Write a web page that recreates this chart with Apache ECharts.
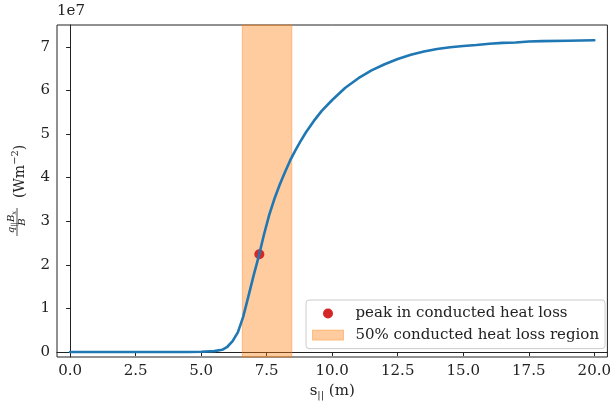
<!DOCTYPE html>
<html>
<head>
<meta charset="utf-8">
<script src="https://cdn.jsdelivr.net/npm/echarts@6/dist/echarts.min.js"></script>
<style>
html,body{margin:0;padding:0;background:#fff;}
#chart{width:614px;height:407px;}
</style>
</head>
<body>
<div id="chart"></div>
<script>
// s_|| (m)
const sValues = [0,1,2,3,4,4.5,5,5.5,5.8,6,6.2,6.4,6.6,6.8,7,7.2,7.4,7.6,7.8,8,8.2,8.4,8.6,8.8,9,9.3,9.6,10,10.5,11,11.5,12,12.5,13,13.5,14,14.5,15,15.5,16,16.5,17,17.5,18,19,20];
// q_|| Bx / B in units of 1e7 W m^-2
const qValues = [0,0,0,0,0,0,0.005,0.02,0.05,0.12,0.25,0.45,0.80,1.27,1.75,2.20,2.70,3.15,3.52,3.84,4.13,4.40,4.63,4.84,5.04,5.30,5.53,5.78,6.06,6.28,6.46,6.60,6.72,6.82,6.89,6.95,6.99,7.02,7.04,7.07,7.09,7.10,7.12,7.13,7.14,7.15];
const peakS = [7.22];
const peakQ = [2.24];
const regionStart = 6.57;
const regionEnd = 8.46;
const xTicks = [0,2.5,5,7.5,10,12.5,15,17.5,20];
const yTicks = [0,1,2,3,4,5,6,7];
const peakName = 'peak in conducted heat loss';
const regionName = '50% conducted heat loss region';

const FF = 'DejaVu Serif';
const ink = '#222';
const blue = '#1f77b4';
const red = '#d62728';
const orangeA = 'rgba(255,127,14,0.4)';

const chart = echarts.init(document.getElementById('chart'), null, {renderer:'canvas'});
chart.setOption({
  animation: false,
  backgroundColor: '#fff',
  textStyle: {fontFamily: FF},
  grid: {left: 57, right: 3, top: 25, bottom: 50, show: true, borderColor: ink, borderWidth: 1, containLabel: false},
  xAxis: {
    type: 'value', min: -0.5, max: 20.5,
    name: '{a|s}{b|||}{a| (m)}',
    nameLocation: 'middle', nameGap: 26,
    nameTextStyle: {
      rich: {
        a: {fontFamily: FF, fontSize: 15, color: ink},
        b: {fontFamily: FF, fontSize: 10, color: ink, padding: [7,0,0,0]}
      }
    },
    axisLine: {show: true, lineStyle: {color: ink, width: 1}},
    axisTick: {show: true, length: 4, lineStyle: {color: ink}, customValues: xTicks},
    axisLabel: {fontFamily: FF, fontSize: 15, color: ink, margin: 7, customValues: xTicks,
      formatter: v => v.toFixed(1)},
    splitLine: {show: false}
  },
  yAxis: {
    type: 'value', min: -0.115, max: 7.5,
    axisLine: {show: true, lineStyle: {color: ink, width: 1}},
    axisTick: {show: true, length: 4, lineStyle: {color: ink}, customValues: yTicks},
    axisLabel: {fontFamily: FF, fontSize: 15, color: ink, margin: 7, customValues: yTicks,
      formatter: v => String(Math.round(v))},
    splitLine: {show: false}
  },
  legend: {
    orient: 'vertical', left: 306, top: 300,
    padding: [5, 6, 5, 6],
    itemWidth: 31, itemHeight: 10, itemGap: 4.6,
    backgroundColor: 'rgba(255,255,255,0.8)', borderColor: '#cccccc', borderWidth: 1, borderRadius: 3,
    textStyle: {fontFamily: FF, fontSize: 15, color: ink, lineHeight: 17, padding: [0,0,0,7]},
    data: [
      {name: peakName, icon: 'circle', itemStyle: {color: red, opacity: 1}},
      {name: regionName, icon: 'rect', itemStyle: {color: orangeA, borderColor: orangeA, borderWidth: 1}}
    ]
  },
  graphic: [
    {type: 'text', left: 57, top: 4, style: {text: '1e7', font: '15px "DejaVu Serif"', fill: ink}},
    {type: 'group', x: 20, y: 191, rotation: Math.PI / 2, children: [
      {type: 'text', x: -7, y: 0, style: {
        text: '{a|(Wm}{s|−2}{a|)}', verticalAlign: 'middle', align: 'left',
        rich: {
          a: {fontFamily: FF, fontSize: 14, fill: ink, color: ink},
          s: {fontFamily: FF, fontSize: 10, fill: ink, color: ink, padding: [0,0,9,0]}
        }
      }},
      {type: 'text', x: -31, y: -8.5, style: {
        text: '{i|q}{b|||}{i|B}{b|x}', verticalAlign: 'middle', align: 'center',
        rich: {
          i: {fontFamily: FF, fontStyle: 'italic', fontSize: 10, fill: ink, color: ink},
          b: {fontFamily: FF, fontStyle: 'italic', fontSize: 7, fill: ink, color: ink, padding: [5,0,0,0]}
        }
      }},
      {type: 'line', shape: {x1: -45, y1: -3, x2: -17, y2: -3}, style: {stroke: ink, lineWidth: 0.8}},
      {type: 'text', x: -31, y: 2.5, style: {
        text: 'B', font: 'italic 10px "DejaVu Serif"', fill: ink, verticalAlign: 'middle', align: 'center'
      }}
    ]}
  ],
  series: [
    {
      name: regionName, type: 'line', data: [],
      itemStyle: {color: orangeA},
      markArea: {
        silent: true,
        itemStyle: {color: orangeA, borderColor: orangeA, borderWidth: 1},
        data: [[{xAxis: regionStart}, {xAxis: regionEnd}]]
      }
    },
    {
      name: 'curve', type: 'line',
      data: sValues.map((s, i) => [s, qValues[i]]),
      showSymbol: false, smooth: false,
      lineStyle: {color: blue, width: 2.6, join: 'round', cap: 'round'},
      itemStyle: {color: blue}
    },
    {
      name: peakName, type: 'scatter',
      data: peakS.map((s, i) => [s, peakQ[i]]),
      symbol: 'circle', symbolSize: 10,
      itemStyle: {color: red, opacity: 1}
    }
  ]
});
</script>
</body>
</html>
